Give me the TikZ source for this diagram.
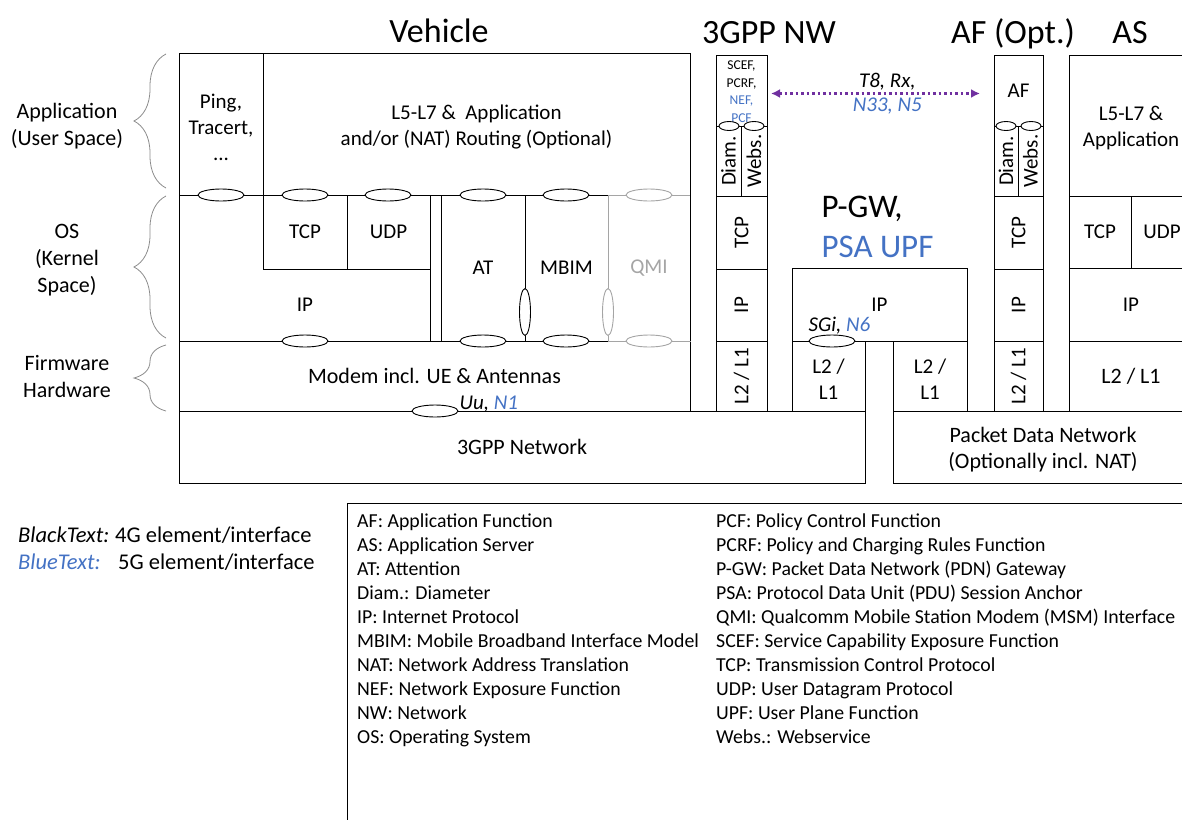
\documentclass[tikz,border=0pt]{standalone}
\usepackage{fontspec}
\setmainfont{Carlito}
\usepackage{xcolor}
\usepackage{tikz}
\usetikzlibrary{positioning, fit, shapes.geometric, arrows.meta,
	decorations.pathreplacing}
\definecolor{Blue5G}{RGB}{68,114,196}
\definecolor{IfPurple}{RGB}{112,48,160}
\definecolor{QmiGray}{RGB}{165,165,165}
\definecolor{BraceGray}{RGB}{140,140,140}
\tikzstyle{Layer} = [draw, rectangle, line width=1pt, inner sep=0pt, outer sep=0pt]
\tikzstyle{Multi} = [align=center, yshift=-3pt]
\tikzstyle{Port} = [draw, ellipse, fill=white, line width=0.9pt, inner sep=0pt, minimum width=46pt, minimum height=12pt]
\tikzstyle{VPort} = [Port, minimum width=11pt, minimum height=47pt]
\tikzstyle{SPort} = [Port, minimum width=20pt, minimum height=9pt]
\tikzstyle{Title} = [anchor=base, font=\fontsize{34}{38}\selectfont]
\tikzstyle{Side} = [align=center, font=\fontsize{22}{27}\selectfont]
\tikzstyle{Big} = [font=\fontsize{22}{26}\selectfont]
\tikzstyle{Small} = [align=center, font=\fontsize{13.5}{17.5}\selectfont]
\tikzstyle{Iface} = [font=\fontsize{21}{26}\selectfont\itshape]
\tikzstyle{Key} = [anchor=base west, inner sep=0pt, font=\fontsize{22.5}{27}\selectfont]
\tikzstyle{Gloss} = [anchor=base west, inner sep=0pt, font=\fontsize{19.8}{24}\selectfont]
\tikzstyle{Brace} = [BraceGray, line width=0.8pt, decorate, decoration={brace, amplitude=32pt}]

\begin{document}
\begin{tikzpicture}[x=1pt, y=-1pt, font=\fontsize{21}{26}\selectfont]
	\useasboundingbox (0,0) rectangle (1182,819);
	\clip (0,0) rectangle (1182,819);

	% titles
	\node[Title] (tVeh) at (439,42) {Vehicle};
	\node[Title] (tNw) at (769,43) {3GPP NW};
	\node[Title] (tAf) at (1013,43) {AF (Opt.)};
	\node[Title] (tAs) at (1130,43) {AS};

	% layer braces
	\draw[Brace] (166,188) -- (166,54);
	\draw[Brace] (166,338) -- (166,196);
	\draw[Brace] (166,411) -- (166,345);
	\node[Side] (sApp) at (67,126) {Application\\(User Space)};
	\node[Side] (sOs) at (67,260) {OS\\(Kernel\\Space)};
	\node[Side] (sFw) at (67,377) {Firmware\\Hardware};

	% vehicle
	\node[Layer, fit={(179,53) (263,195)}] (ping) {};
	\node[Layer, fit={(263,53) (690,195)}] (appl) {};
	\node[Layer, fit={(179,195) (430,341)}] (osV) {};
	\node[Layer, fit={(263,195) (347,269)}] (tcpV) {};
	\node[Layer, fit={(347,195) (430,269)}] (udpV) {};
	\node[Layer, fit={(441,195) (525,341)}] (atV) {};
	\node[Layer, fit={(525,195) (608,341)}] (mbimV) {};
	\node[Layer, fit={(179,341) (690,411)}] (modem) {};
	\node[Layer, draw=QmiGray, fit={(608,195) (690,341)}] (qmiV) {};
	\draw[line width=1pt] (qmiV.north east) -- (qmiV.south east);
	\node[Layer, fit={(179,411) (865,483)}] (net3g) {};

	\node[Multi] (pingT) at (ping.center) {Ping,\\Tracert,\\...};
	\node[Multi] (applT) at (appl.center) {L5-L7 \&~ Application\\and/or (NAT) Routing (Optional)};
	\node (tcpVt) at (tcpV.center) {TCP};
	\node (udpVt) at (udpV.center) {UDP};
	\node (ipVt) at (305,305) {IP};
	\node (atVt) at (atV.center) {AT};
	\node (mbimVt) at (mbimV.center) {MBIM};
	\node[text=QmiGray] (qmiVt) at (qmiV.center) {QMI};
	\node[Big] (modemT) at (modem.center) {Modem incl. UE \& Antennas};
	\node[Big] (net3gT) at (net3g.center) {3GPP Network};

	\foreach \px/\nm in {221/a, 305/b, 388/c, 483/d, 566/e}
		\node[Port] (up\nm) at (\px,195) {};
	\foreach \px/\nm in {305/b, 483/d, 566/e}
		\node[Port] (dn\nm) at (\px,341) {};
	\node[Port, draw=QmiGray] (upq) at (649,195) {};
	\node[Port, draw=QmiGray] (dnq) at (649,341) {};
	\node[VPort] (vMbim) at (525,312) {};
	\node[VPort, draw=QmiGray] (vQmi) at (608,312) {};
	\node[Port] (pUu) at (435,411) {};
	\node[Iface, anchor=base west] (lUu) at (456,409) {Uu, {\color{Blue5G}N1}};

	% 3GPP NW
	\node[Layer, fit={(716,55) (767,126)}] (scef) {};
	\node[Layer, fit={(716,126) (741,196)}] (diamN) {};
	\node[Layer, fit={(741,126) (767,196)}] (websN) {};
	\node[Layer, fit={(716,196) (767,269)}] (tcpN) {};
	\node[Layer, fit={(716,269) (767,341)}] (ipN) {};
	\node[Layer, fit={(716,341) (767,411)}] (l2N) {};
	\node[Small] (scefT) at ([yshift=-1pt]scef.center) {SCEF,\\PCRF,\\{\color{Blue5G}NEF,}\\{\color{Blue5G}PCF}};
	\node[rotate=90] (diamNt) at (diamN.center) {Diam.};
	\node[rotate=90] (websNt) at (websN.center) {Webs.};
	\node[rotate=90] (tcpNt) at (tcpN.center) {TCP};
	\node[rotate=90] (ipNt) at (ipN.center) {IP};
	\node[rotate=90] (l2Nt) at (l2N.center) {L2 / L1};
	\node[SPort] (pDiamN) at (729,126) {};
	\node[SPort] (pWebsN) at (754,126) {};

	% P-GW / PSA UPF
	\node[anchor=west, align=left, font=\fontsize{33}{40}\selectfont] (tPgw) at (818,227) {P-GW,\\{\color{Blue5G}PSA UPF}};
	\node[Layer, fit={(792,268) (967,341)}] (ipP) {};
	\node[Layer, fit={(792,341) (865,411)}] (l2Pa) {};
	\node[Layer, fit={(893,341) (967,411)}] (l2Pb) {};
	\node[Layer, fit={(893,411) (1193,483)}] (pdn) {};
	\node (ipPt) at (ipP.center) {IP};
	\node[Multi] (l2PaT) at (l2Pa.center) {L2 /\\L1};
	\node[Multi] (l2PbT) at (l2Pb.center) {L2 /\\L1};
	\node[Multi, Big] (pdnT) at (pdn.center) {Packet Data Network\\(Optionally incl. NAT)};
	\node[Port] (pSgi) at (832,341) {};
	\node[Iface, anchor=base west] (lSgi) at (805,331) {SGi, {\color{Blue5G}N6}};

	% AF
	\node[Layer, fit={(994,55) (1043,126)}] (afbox) {};
	\node[Layer, fit={(994,126) (1018,196)}] (diamA) {};
	\node[Layer, fit={(1018,126) (1043,196)}] (websA) {};
	\node[Layer, fit={(994,196) (1043,269)}] (tcpA) {};
	\node[Layer, fit={(994,269) (1043,341)}] (ipA) {};
	\node[Layer, fit={(994,341) (1043,411)}] (l2A) {};
	\node (afT) at (afbox.center) {AF};
	\node[rotate=90] (diamAt) at (diamA.center) {Diam.};
	\node[rotate=90] (websAt) at (websA.center) {Webs.};
	\node[rotate=90] (tcpAt) at (tcpA.center) {TCP};
	\node[rotate=90] (ipAt) at (ipA.center) {IP};
	\node[rotate=90] (l2At) at (l2A.center) {L2 / L1};
	\node[SPort] (pDiamA) at (1006,126) {};
	\node[SPort] (pWebsA) at (1031,126) {};

	% AS
	\node[Layer, fit={(1069,55) (1193,196)}] (asApp) {};
	\node[Layer, fit={(1069,196) (1131,268)}] (tcpS) {};
	\node[Layer, fit={(1131,196) (1193,268)}] (udpS) {};
	\node[Layer, fit={(1069,268) (1193,341)}] (ipS) {};
	\node[Layer, fit={(1069,341) (1193,411)}] (l2S) {};
	\node[Multi] (asAppT) at (asApp.center) {L5-L7 \&\\Application};
	\node (tcpSt) at (tcpS.center) {TCP};
	\node (udpSt) at (udpS.center) {UDP};
	\node (ipSt) at (ipS.center) {IP};
	\node[Big] (l2St) at (l2S.center) {L2 / L1};

	% control plane interface
	\draw[IfPurple, line width=2.2pt, dash pattern=on 2.5pt off 3pt,
		{Latex[length=9pt,width=9pt]}-{Latex[length=9pt,width=9pt]},
		shorten <=4pt, shorten >=14pt] ([yshift=-3pt]scef.east) -- ([yshift=-3pt]afbox.west)
		node[pos=0.53, above=-1pt, Iface, text=black] (lT8) {T8, Rx,}
		node[pos=0.53, below=0pt, Iface, text=Blue5G] (lN33) {N33, N5};

	% legend
	\node[Key, font=\fontsize{22.5}{27}\selectfont\itshape] (kBlack) at (18,542) {BlackText:};
	\node[Key] (kBlackD) at (115,542) {4G element/interface};
	\node[Key, font=\fontsize{22.5}{27}\selectfont\itshape, text=Blue5G] (kBlue) at (18,569) {BlueText:};
	\node[Key] (kBlueD) at (118,569) {5G element/interface};

	\node[Layer, fit={(347,503) (1200,830)}] (gloss) {};
	\foreach \txt [count=\i] in {AF: Application Function, AS: Application Server,
		AT: Attention, Diam.: Diameter, IP: Internet Protocol,
		MBIM: Mobile Broadband Interface Model, NAT: Network Address Translation,
		NEF: Network Exposure Function, NW: Network, OS: Operating System}
		\node[Gloss] (gl\i) at (357,503+24*\i) {\txt};
	\foreach \txt [count=\i] in {PCF: Policy Control Function,
		PCRF: Policy and Charging Rules Function,
		P-GW: Packet Data Network (PDN) Gateway,
		PSA: Protocol Data Unit (PDU) Session Anchor,
		QMI: Qualcomm Mobile Station Modem (MSM) Interface,
		SCEF: Service Capability Exposure Function,
		TCP: Transmission Control Protocol, UDP: User Datagram Protocol,
		UPF: User Plane Function, Webs.: Webservice}
		\node[Gloss] (gr\i) at (716,503+24*\i) {\txt};
\end{tikzpicture}
\end{document}
